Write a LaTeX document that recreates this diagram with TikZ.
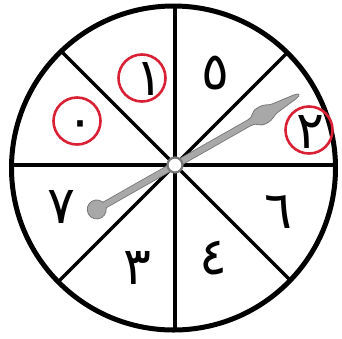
\documentclass[tikz,border=0pt]{standalone}
\usepackage{fontspec}
\newfontfamily\arabicfont[Script=Arabic]{DejaVu Sans}
\usetikzlibrary{positioning}
\definecolor{ringred}{RGB}{218,32,52}
\definecolor{needlegray}{RGB}{168,168,168}
\definecolor{needleedge}{RGB}{120,120,120}

\begin{document}
\begin{tikzpicture}[
  x=1pt, y=-1pt,
  rim/.style={line width=5pt},
  spoke/.style={line width=3.2pt},
  digit/.style={font=\arabicfont\fontsize{52}{52}\selectfont, inner sep=0pt},
  ring/.style={circle, draw=ringred, line width=2.6pt, minimum size=47pt, inner sep=0pt},
  needle/.style={fill=needlegray, draw=needleedge, line width=0.8pt}
]
\useasboundingbox (0,0) rectangle (342,338);

\coordinate (rimc) at (173.5,168);
\coordinate (hub) at (175,165);

% spokes
\begin{scope}
  \clip (rimc) circle (162);
  \foreach \a in {0,45,...,315}
    \draw[spoke] (hub) -- ++(\a:170);
\end{scope}
\draw[rim] (rimc) circle (162);

% digits
\node[digit] (n1) at (149,79) {١};
\node[digit] (n0) at (80,130) {٠};
\node[digit] (n5) at (215,73) {٥};
\node[digit] (n2) at (310,132) {٢};
\node[digit] (n6) at (278,212) {٦};
\node[digit] (n4) at (213,258) {٤};
\node[digit] (n3) at (137,268) {٣};
\node[digit] (n7) at (61,207) {٧};

% red rings
\node[ring] (r1) at (142,78) {};
\node[ring] (r0) at (77,121) {};
\node[ring] (r2) at (309,130) {};

% pointer
\begin{scope}[shift={(hub)}, rotate=29.6]
  \draw[needle] (-90,3.2) -- (90,3.2) -- (90,-3.2) -- (-90,-3.2) -- cycle;
  \draw[needle] (-90,0) circle (9.5);
  \draw[needle] (86,3.2) .. controls (93,3.2) and (91,9) .. (101,9)
    .. controls (109,9) and (110,5.5) .. (115,5) -- (138,2.2)
    .. controls (144,1.6) and (144,-1.6) .. (138,-2.2) -- (115,-5)
    .. controls (110,-5.5) and (109,-9) .. (101,-9)
    .. controls (91,-9) and (93,-3.2) .. (86,-3.2) -- cycle;
  \fill[needlegray] (-84,2.6) rectangle (90,-2.6);
\end{scope}
\node[circle, draw=needleedge, fill=white, line width=2.2pt, minimum size=15pt, inner sep=0pt] (pin) at (hub) {};
\end{tikzpicture}
\end{document}
